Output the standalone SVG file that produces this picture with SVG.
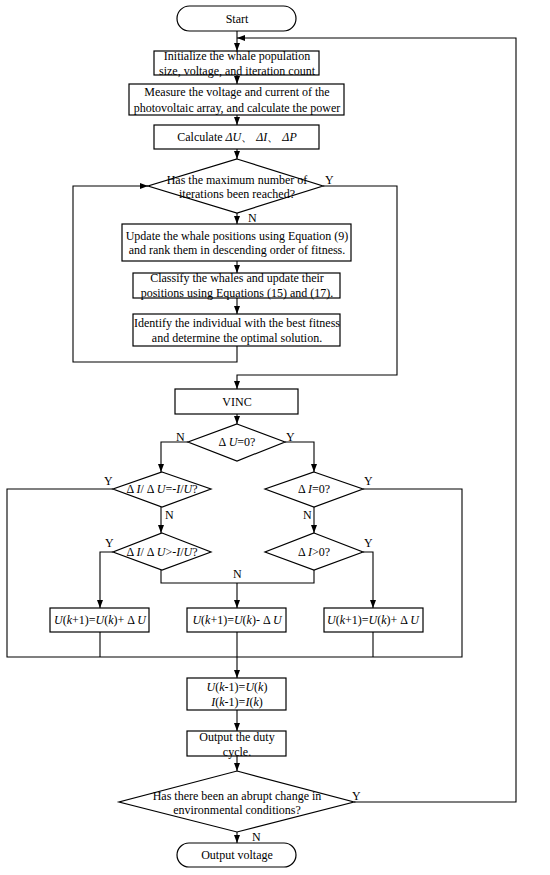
<svg xmlns="http://www.w3.org/2000/svg" width="550" height="875" viewBox="0 0 550 875">
<style>
.s{fill:#fff;stroke:#000;stroke-width:1.2}
.c{fill:none;stroke:#000;stroke-width:1.1}
text{font-family:"Liberation Serif","Times New Roman",serif;font-size:12px;fill:#000}
.m{text-anchor:middle}
.i{font-style:italic}
</style>
<defs>
<marker id="a" markerUnits="userSpaceOnUse" markerWidth="8" markerHeight="6" refX="8" refY="3" orient="auto">
<path d="M0,0 L8,3 L0,6 z" fill="#000"/>
</marker>
</defs>
<rect width="550" height="875" fill="#fff"/>
<g id="connectors">
<path class="c" d="M237,31 V51" marker-end="url(#a)"/>
<path class="c" d="M354,802 H516 V38 H237" marker-end="url(#a)"/>
<path class="c" d="M237,75 V84" marker-end="url(#a)"/>
<path class="c" d="M237,115 V125" marker-end="url(#a)"/>
<path class="c" d="M237,149 V159" marker-end="url(#a)"/>
<path class="c" d="M237,213 V224" marker-end="url(#a)"/>
<path class="c" d="M237,261 V273" marker-end="url(#a)"/>
<path class="c" d="M237,298 V314" marker-end="url(#a)"/>
<path class="c" d="M237,346 V362 H73 V186 H148" marker-end="url(#a)"/>
<path class="c" d="M323,186 H397 V375 H237 V389" marker-end="url(#a)"/>
<path class="c" d="M237,414 V424" marker-end="url(#a)"/>
<path class="c" d="M188,442 H161 V472" marker-end="url(#a)"/>
<path class="c" d="M285,442 H314 V472" marker-end="url(#a)"/>
<path class="c" d="M113,489 H7 V657 H462 V489 H363"/>
<path class="c" d="M161,507 V533" marker-end="url(#a)"/>
<path class="c" d="M314,507 V533" marker-end="url(#a)"/>
<path class="c" d="M113,552 H100 V608" marker-end="url(#a)"/>
<path class="c" d="M363,552 H373 V608" marker-end="url(#a)"/>
<path class="c" d="M161,570 V583 H314 V570"/>
<path class="c" d="M237,583 V608" marker-end="url(#a)"/>
<path class="c" d="M100,632 V657"/>
<path class="c" d="M373,632 V657"/>
<path class="c" d="M237,632 V678" marker-end="url(#a)"/>
<path class="c" d="M237,710 V731" marker-end="url(#a)"/>
<path class="c" d="M237,756 V771" marker-end="url(#a)"/>
<path class="c" d="M237,832 V843" marker-end="url(#a)"/>
<text x="325" y="184">Y</text>
<text x="248" y="222">N</text>
<text x="176" y="441">N</text>
<text x="286" y="441">Y</text>
<text x="104" y="485">Y</text>
<text x="165" y="519">N</text>
<text x="364" y="485">Y</text>
<text x="303" y="519">N</text>
<text x="105" y="547">Y</text>
<text x="364" y="547">Y</text>
<text x="233" y="578">N</text>
<text x="352" y="800">Y</text>
<text x="252" y="841">N</text>
</g>
<g id="start"><rect class="s" x="177" y="6" width="119" height="25" rx="12.5"/><text class="m" x="237" y="23">Start</text></g>
<g id="init"><rect class="s" x="154" y="51" width="165" height="24"/><text class="m" x="237" y="60">Initialize the whale population</text><text class="m" x="237" y="75">size, voltage, and iteration count</text></g>
<g id="measure"><rect class="s" x="129" y="84" width="215" height="31"/><text class="m" x="237" y="96">Measure the voltage and current of the</text><text class="m" x="237" y="112">photovoltaic array, and calculate the power</text></g>
<g id="calc"><rect class="s" x="154" y="125" width="165" height="24"/><text class="m" x="237" y="141">Calculate <tspan class="i">ΔU</tspan>、 <tspan class="i">ΔI</tspan>、 <tspan class="i">ΔP</tspan></text></g>
<g id="maxiter"><polygon class="s" points="237,159 323,186 237,213 148,186"/><text class="m" x="237" y="184">Has the maximum number of</text><text class="m" x="237" y="198">iterations been reached?</text></g>
<g id="update"><rect class="s" x="122" y="224" width="229" height="37"/><text class="m" x="237" y="240">Update the whale positions using Equation (9)</text><text class="m" x="237" y="254">and rank them in descending order of fitness.</text></g>
<g id="classify"><rect class="s" x="133" y="273" width="207" height="25"/><text class="m" x="237" y="282">Classify the whales and update their</text><text class="m" x="237" y="297">positions using Equations (15) and (17).</text></g>
<g id="identify"><rect class="s" x="133" y="314" width="207" height="32"/><text class="m" x="237" y="327">Identify the individual with the best fitness</text><text class="m" x="237" y="342">and determine the optimal solution.</text></g>
<g id="vinc"><rect class="s" x="175" y="389" width="123" height="25"/><text class="m" x="237" y="406">VINC</text></g>
<g id="du0"><polygon class="s" points="237,424 285,442 237,461 188,442"/><text class="m" x="237" y="446">Δ <tspan class="i">U</tspan>=0?</text></g>
<g id="didu_eq"><polygon class="s" points="162,472 211,489 162,507 113,489"/><text class="m" x="162" y="493">Δ <tspan class="i">I</tspan>/ Δ <tspan class="i">U</tspan>=-<tspan class="i">I</tspan>/<tspan class="i">U</tspan>?</text></g>
<g id="didu_gt"><polygon class="s" points="162,533 211,552 162,570 113,552"/><text class="m" x="162" y="556">Δ <tspan class="i">I</tspan>/ Δ <tspan class="i">U</tspan>&gt;-<tspan class="i">I</tspan>/<tspan class="i">U</tspan>?</text></g>
<g id="di0"><polygon class="s" points="314,472 363,489 314,507 265,489"/><text class="m" x="314" y="493">Δ <tspan class="i">I</tspan>=0?</text></g>
<g id="digt0"><polygon class="s" points="314,533 363,552 314,570 265,552"/><text class="m" x="314" y="556">Δ <tspan class="i">I</tspan>&gt;0?</text></g>
<g id="inc1"><rect class="s" x="50" y="608" width="99" height="24"/><text class="m" x="100" y="624"><tspan class="i">U</tspan>(<tspan class="i">k</tspan>+1)=<tspan class="i">U</tspan>(<tspan class="i">k</tspan>)+ Δ <tspan class="i">U</tspan></text></g>
<g id="dec"><rect class="s" x="187" y="608" width="99" height="24"/><text class="m" x="237" y="624"><tspan class="i">U</tspan>(<tspan class="i">k</tspan>+1)=<tspan class="i">U</tspan>(<tspan class="i">k</tspan>)- Δ <tspan class="i">U</tspan></text></g>
<g id="inc2"><rect class="s" x="324" y="608" width="99" height="24"/><text class="m" x="373" y="624"><tspan class="i">U</tspan>(<tspan class="i">k</tspan>+1)=<tspan class="i">U</tspan>(<tspan class="i">k</tspan>)+ Δ <tspan class="i">U</tspan></text></g>
<g id="store"><rect class="s" x="187" y="678" width="99" height="32"/><text class="m" x="237" y="691"><tspan class="i">U</tspan>(<tspan class="i">k</tspan>-1)=<tspan class="i">U</tspan>(<tspan class="i">k</tspan>)</text><text class="m" x="237" y="706"><tspan class="i">I</tspan>(<tspan class="i">k</tspan>-1)=<tspan class="i">I</tspan>(<tspan class="i">k</tspan>)</text></g>
<g id="duty"><rect class="s" x="187" y="731" width="99" height="25"/><text class="m" x="237" y="741">Output the duty</text><text class="m" x="237" y="756">cycle.</text></g>
<g id="abrupt"><polygon class="s" points="237,771 354,802 237,832 119,802"/><text class="m" x="237" y="800">Has there been an abrupt change in</text><text class="m" x="237" y="814">environmental conditions?</text></g>
<g id="end"><rect class="s" x="177" y="843" width="119" height="24" rx="12"/><text class="m" x="237" y="859">Output voltage</text></g>
</svg>
